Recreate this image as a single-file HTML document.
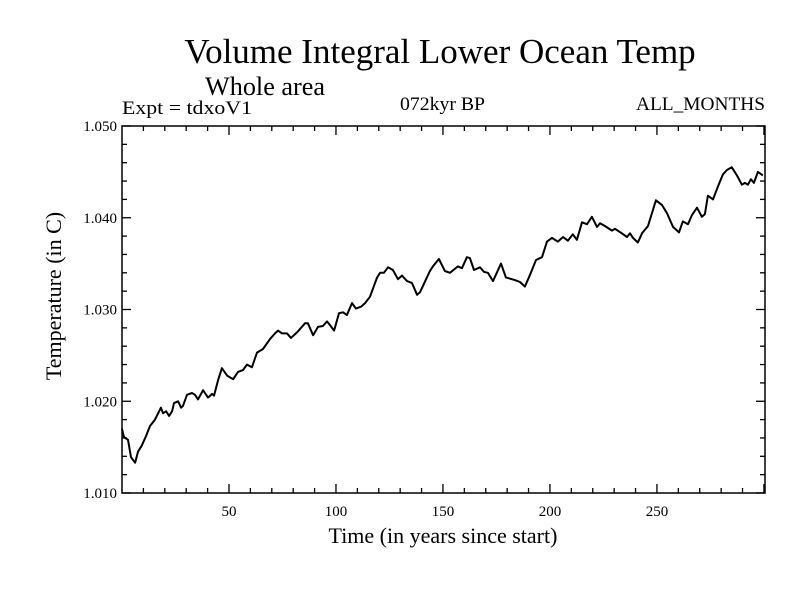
<!DOCTYPE html>
<html><head><meta charset="utf-8"><style>
body{margin:0;background:#fff;}
svg text{font-family:"Liberation Serif",serif;fill:#000;}
</style></head><body>
<svg id="chart" width="800" height="600" xmlns="http://www.w3.org/2000/svg">
<rect width="800" height="600" fill="#fff"/>
<text x="440" y="63" font-size="35" text-anchor="middle">Volume Integral Lower Ocean Temp</text>
<text x="205" y="95" font-size="26" textLength="120" lengthAdjust="spacingAndGlyphs">Whole area</text>
<text x="122" y="114" font-size="19" textLength="130" lengthAdjust="spacingAndGlyphs">Expt = tdxoV1</text>
<text x="400" y="110" font-size="19" textLength="85" lengthAdjust="spacingAndGlyphs">072kyr BP</text>
<text x="636" y="110" font-size="19" textLength="129" lengthAdjust="spacingAndGlyphs">ALL_MONTHS</text>
<text x="443" y="543" font-size="22" text-anchor="middle">Time (in years since start)</text>
<text transform="translate(61,296) rotate(-90)" font-size="22" text-anchor="middle">Temperature (in C)</text>
<g id="axes"></g>
<g id="series"></g>
<rect x="122" y="126" width="643" height="367" fill="none" stroke="#000" stroke-width="1.5"/>
</svg>
<script>
const years=[0,0.9,2.8,4.2,6.1,7.5,9.3,11.2,13.1,15.4,18.2,19.2,20.6,22,23.4,24.3,26.2,27.6,28.5,30.4,32.7,34.1,35.5,37.9,40.2,42.1,43,44.9,46.7,49.1,51.9,54.2,56.5,58.4,60.7,63.1,65.9,69.2,71.5,72.9,74.8,77.1,79,81.8,85.5,86.9,89.3,91.6,93.9,95.8,97.2,99.1,101.4,103.3,105.1,107.5,109.3,111.7,113.6,115.9,119.2,120.6,122.4,124.3,126.6,129,130.8,133.2,135.5,137.9,139.3,143.9,145.3,148.1,150.9,153.3,157,158.9,161.2,162.6,164.5,167.3,169.2,171,173.4,177.1,179.4,183.6,186,188.3,190.7,193.5,196.3,198.6,200.9,203.7,206.1,208.4,210.7,212.6,215,217.3,219.6,222,223.4,225.7,229,230.4,233.6,236,237.4,238.8,241.1,243,245.8,249.5,252.3,254.7,257.5,260.3,262.1,264.5,266.4,268.7,271,272.4,273.8,276.2,278.5,280.8,282.7,285,287.4,289.7,291.1,292.5,293.9,295.3,297.2,299.5];
const temps=[1.0170,1.0161,1.0158,1.0139,1.0133,1.0145,1.0152,1.0162,1.0173,1.0180,1.0193,1.0187,1.0189,1.0184,1.0189,1.0198,1.0200,1.0193,1.0195,1.0207,1.0209,1.0207,1.0202,1.0212,1.0204,1.0208,1.0206,1.0223,1.0236,1.0228,1.0224,1.0232,1.0234,1.0240,1.0237,1.0253,1.0257,1.0268,1.0274,1.0277,1.0274,1.0274,1.0269,1.0275,1.0285,1.0285,1.0272,1.0281,1.0282,1.0287,1.0283,1.0277,1.0296,1.0297,1.0294,1.0307,1.0301,1.0303,1.0307,1.0314,1.0335,1.0340,1.0340,1.0346,1.0343,1.0333,1.0337,1.0331,1.0329,1.0316,1.0319,1.0342,1.0347,1.0355,1.0342,1.0340,1.0347,1.0345,1.0357,1.0356,1.0343,1.0346,1.0341,1.0340,1.0331,1.0350,1.0335,1.0332,1.0330,1.0325,1.0338,1.0354,1.0357,1.0374,1.0378,1.0374,1.0379,1.0375,1.0382,1.0376,1.0395,1.0393,1.0401,1.0390,1.0394,1.0391,1.0386,1.0388,1.0383,1.0379,1.0383,1.0378,1.0373,1.0383,1.0391,1.0419,1.0414,1.0405,1.0390,1.0384,1.0396,1.0393,1.0403,1.0411,1.0401,1.0404,1.0424,1.0420,1.0434,1.0447,1.0452,1.0455,1.0446,1.0436,1.0438,1.0436,1.0442,1.0438,1.0450,1.0446];
const xTickLabels=[50,100,150,200,250];
const yTickLabels=["1.010","1.020","1.030","1.040","1.050"];

const X0=122,X1=765,Y0=493,Y1=126;
const xMin=0,xMax=300.5,yMin=1.010,yMax=1.050;
const sx=v=>X0+(v-xMin)/(xMax-xMin)*(X1-X0);
const sy=v=>Y0-(v-yMin)/(yMax-yMin)*(Y0-Y1);
const NS="http://www.w3.org/2000/svg";
const axes=document.getElementById('axes');
function line(x1,y1,x2,y2,name){
  const l=document.createElementNS(NS,'line');
  l.setAttribute('x1',x1);l.setAttribute('y1',y1);l.setAttribute('x2',x2);l.setAttribute('y2',y2);
  l.setAttribute('stroke','#000');l.setAttribute('stroke-width','1.3');
  
  
  axes.appendChild(l);
}
for(let v=10;v<=300;v+=10){
  const x=sx(v),len=(v%50===0)?9:5;
  line(x,Y0,x,Y0-len,'x-tick');
  line(x,Y1,x,Y1+len,'x-tick-top');
}
for(let i=0;i<=20;i++){
  const v=yMin+i*0.002,y=sy(v),len=(i%5===0)?9:5;
  line(X0,y,X0+len,y,'y-tick');
  line(X1,y,X1-len,y,'y-tick-right');
}
xTickLabels.forEach(v=>{
  const t=document.createElementNS(NS,'text');
  t.setAttribute('x',sx(v));t.setAttribute('y',516);t.setAttribute('font-size','15');t.setAttribute('text-anchor','middle');
  t.textContent=v;
  
  
  axes.appendChild(t);
});
yTickLabels.forEach(s=>{
  const t=document.createElementNS(NS,'text');
  t.setAttribute('x',117);t.setAttribute('y',sy(parseFloat(s))+5);t.setAttribute('font-size','15');t.setAttribute('text-anchor','end');
  t.textContent=s;
  
  
  axes.appendChild(t);
});
const p=document.createElementNS(NS,'path');
p.setAttribute('d',years.map((v,i)=>(i?'L':'M')+sx(v).toFixed(1)+','+sy(temps[i]).toFixed(1)).join(''));
p.setAttribute('fill','none');p.setAttribute('stroke','#000');p.setAttribute('stroke-width','2');p.setAttribute('stroke-linejoin','round');


document.getElementById('series').appendChild(p);
</script>
</body></html>
